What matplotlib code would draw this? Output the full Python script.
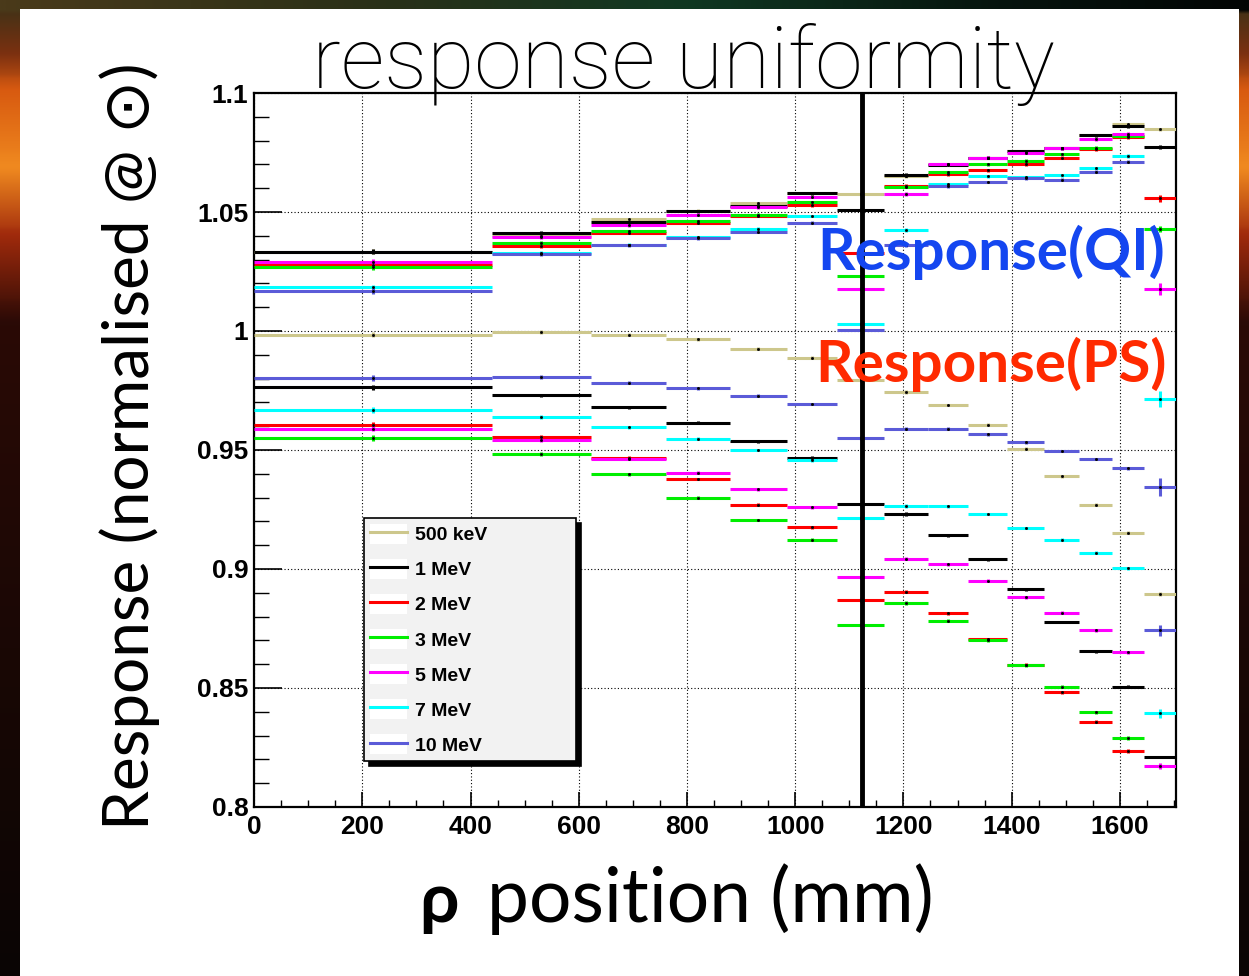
import numpy as np
import matplotlib
matplotlib.use('Agg')
import matplotlib.pyplot as plt
from matplotlib.lines import Line2D
from matplotlib.patches import Rectangle
from matplotlib.legend_handler import HandlerTuple
from matplotlib.colors import LinearSegmentedColormap
from matplotlib.ticker import MultipleLocator, FuncFormatter

plt.rcParams['font.family'] = ['Liberation Sans', 'DejaVu Sans']
plt.rcParams['font.weight'] = 'bold'

# ------------------------------------------------------------
# data: rho bins (mm) and response per energy, QI and PS
# ------------------------------------------------------------
nan = np.nan
bin_edges = [0, 440, 622, 762, 880, 984, 1078, 1164, 1245, 1320, 1392, 1460, 1525, 1586, 1645, 1704]

labels = ['500 keV', '1 MeV', '2 MeV', '3 MeV', '5 MeV', '7 MeV', '10 MeV']
colors = ['#cdc78c', '#000000', '#ff0000', '#00ee00', '#ff00ff', '#00ffff', '#5b5bd8']

resp_qi_500k = [1.0334, 1.0400, 1.0469, 1.0505, 1.0538, 1.0579, 1.0577, 1.0650, 1.0700, 1.0728, 1.0755, 1.0767, 1.0822, 1.0868, 1.0847]
resp_qi_1m = [1.0334, 1.0413, 1.0458, 1.0503, 1.0526, 1.0579, 1.0508, 1.0655, 1.0699, 1.0728, 1.0756, 1.0767, 1.0823, 1.0862, 1.0774]
resp_qi_2m = [1.0278, 1.0356, 1.0413, 1.0455, 1.0483, 1.0528, 1.0327, 1.0611, 1.0659, 1.0676, 1.0700, 1.0729, 1.0763, 1.0815, 1.0558]
resp_qi_3m = [1.0267, 1.0369, 1.0419, 1.0461, 1.0489, 1.0540, 1.0229, 1.0607, 1.0666, 1.0701, 1.0715, 1.0744, 1.0770, 1.0818, 1.0428]
resp_qi_5m = [1.0291, 1.0395, 1.0444, 1.0489, 1.0520, 1.0563, 1.0177, 1.0576, 1.0701, 1.0729, 1.0749, 1.0768, 1.0805, 1.0829, 1.0177]
resp_qi_7m = [1.0183, 1.0328, 1.0362, 1.0395, 1.0430, 1.0483, 1.0030, 1.0424, 1.0617, 1.0650, 1.0645, 1.0655, 1.0685, 1.0735, 0.9714]
resp_qi_10m = [1.0169, 1.0322, 1.0360, 1.0390, 1.0416, 1.0455, 1.0006, 1.0360, 1.0608, 1.0626, 1.0642, 1.0636, 1.0670, 1.0711, 0.9345]

resp_ps_500k = [0.9985, 0.9995, 0.9985, 0.9965, 0.9926, 0.9887, 0.9795, 0.9743, 0.9689, 0.9606, 0.9506, 0.9390, 0.9270, 0.9152, 0.8895]
resp_ps_1m = [0.9763, 0.9729, 0.9680, 0.9614, 0.9536, 0.9467, 0.9271, 0.9231, 0.9142, 0.9040, 0.8915, 0.8777, 0.8655, 0.8506, 0.8210]
resp_ps_2m = [0.9606, 0.9553, 0.9468, 0.9378, 0.9270, 0.9176, 0.8871, 0.8905, 0.8813, 0.8706, 0.8597, 0.8481, 0.8359, 0.8235, nan]
resp_ps_3m = [0.9551, 0.9482, 0.9398, 0.9300, 0.9206, 0.9123, 0.8763, 0.8857, 0.8783, 0.8700, 0.8595, 0.8506, 0.8398, 0.8290, nan]
resp_ps_5m = [0.9590, 0.9541, 0.9462, 0.9404, 0.9335, 0.9260, 0.8965, 0.9044, 0.9019, 0.8950, 0.8881, 0.8817, 0.8742, 0.8650, 0.8171]
resp_ps_7m = [0.9669, 0.9639, 0.9595, 0.9547, 0.9500, 0.9457, 0.9215, 0.9266, 0.9263, 0.9231, 0.9172, 0.9123, 0.9068, 0.9003, 0.8393]
resp_ps_10m = [0.9802, 0.9808, 0.9783, 0.9759, 0.9728, 0.9693, 0.9552, 0.9590, 0.9590, 0.9566, 0.9532, 0.9496, 0.9462, 0.9423, 0.8742]

# statistical errors: typical per bin, last bin per energy
err_bins = [0.0012, 0.0008, 0.0006, 0.0006, 0.0006, 0.0006, 0.0008, 0.0008, 0.0006, 0.0006, 0.0006, 0.0006, 0.0006, 0.0007]
err_last_qi = [0.0008, 0.0008, 0.0014, 0.0014, 0.0024, 0.0034, 0.0038]
err_last_ps = [0.0008, 0.0006, 0.0010, 0.0010, 0.0012, 0.0020, 0.0022]

pos_qi_line = 1124   # vertical marker (mm)

qi_sets = [resp_qi_500k, resp_qi_1m, resp_qi_2m, resp_qi_3m, resp_qi_5m, resp_qi_7m, resp_qi_10m]
ps_sets = [resp_ps_500k, resp_ps_1m, resp_ps_2m, resp_ps_3m, resp_ps_5m, resp_ps_7m, resp_ps_10m]

edges = np.array(bin_edges, dtype=float)
centers = 0.5 * (edges[1:] + edges[:-1])
half_w = 0.5 * (edges[1:] - edges[:-1])

# ------------------------------------------------------------
# figure + slide background
# ------------------------------------------------------------
fig = plt.figure(figsize=(12.49, 9.76), dpi=100)

bg = fig.add_axes([0, 0, 1, 1], zorder=-10)
bg.axis('off')
H, W = 244, 312
left_cmap = LinearSegmentedColormap.from_list('left', [
    (0.0, '#3a3218'), (0.05, '#7a3010'), (0.09, '#d85a10'), (0.17, '#f08a20'),
    (0.24, '#a02a0c'), (0.33, '#2a0a06'), (1.0, '#0a0504')])
top_cmap = LinearSegmentedColormap.from_list('top', [
    (0.0, '#4a3a1a'), (0.3, '#2a3018'), (0.55, '#103822'), (0.8, '#06140e'), (1.0, '#020504')])
img = np.repeat(left_cmap(np.linspace(0, 1, H))[:, None, :3], W, axis=1)
img[:3] = top_cmap(np.linspace(0, 1, W))[None, :, :3]
bg.imshow(img, aspect='auto', extent=(0, 1, 0, 1), interpolation='bilinear')
bg.set_xlim(0, 1)
bg.set_ylim(0, 1)
fig.patches.append(Rectangle((0.016, 0), 0.976, 0.9905, transform=fig.transFigure,
                             facecolor='white', edgecolor='none', zorder=-5))

ax = fig.add_axes([0.2034, 0.1732, 0.7383, 0.7315])

for i, c in enumerate(colors):
    for vals, last in ((qi_sets[i], err_last_qi[i]), (ps_sets[i], err_last_ps[i])):
        yerr = np.array(err_bins + [last])
        ax.errorbar(centers, vals, xerr=half_w, yerr=yerr, fmt='s', ms=1.0,
                    mfc='k', mec='k', ecolor=c, elinewidth=2.2, capsize=0, zorder=3)

ax.axvline(pos_qi_line, color='k', lw=3.5, zorder=6)

ax.set_xlim(0, 1704)
ax.set_ylim(0.8, 1.1)
ax.xaxis.set_major_locator(MultipleLocator(200))
ax.xaxis.set_minor_locator(MultipleLocator(50))
ax.yaxis.set_major_locator(MultipleLocator(0.05))
ax.yaxis.set_minor_locator(MultipleLocator(0.01))
ax.yaxis.set_major_formatter(FuncFormatter(lambda v, p: f'{v:g}'))
ax.grid(True, which='major', ls=(0, (1, 2)), color='k', lw=0.8)
ax.set_axisbelow(True)
ax.tick_params(axis='y', which='major', direction='in', length=20, width=1.2, labelsize=19, pad=4,
               right=False)
ax.tick_params(axis='y', which='minor', direction='in', length=11, width=1.0, right=False)
ax.tick_params(axis='x', which='major', direction='in', length=11, width=1.2, labelsize=19, pad=6,
               top=False)
ax.tick_params(axis='x', which='minor', direction='in', length=5, width=1.0, top=False)
for s in ax.spines.values():
    s.set_linewidth(1.6)

handles = [(Rectangle((0, 0), 1, 1, facecolor='white', edgecolor='none'),
            Line2D([], [], color=c, lw=2.2)) for c in colors]
leg = ax.legend(handles, labels, handler_map={tuple: HandlerTuple(ndivide=1)},
                loc='upper left', bbox_to_anchor=(0.119, 0.405, 0.23, 0), mode='expand',
                prop={'family': 'Liberation Sans', 'weight': 'bold', 'size': 14},
                frameon=True, fancybox=False, edgecolor='k', facecolor='#f2f2f2', framealpha=1,
                shadow={'ox': 4, 'oy': -4, 'color': 'k', 'alpha': 1},
                borderpad=0.3, labelspacing=0.75, handlelength=1.9, handleheight=1.2,
                handletextpad=0.45, borderaxespad=0)
leg.get_frame().set_linewidth(1.2)
leg.set_zorder(8)

# ------------------------------------------------------------
# slide texts
# ------------------------------------------------------------
gill = ['Lato', 'DejaVu Sans']
fig.text(0.547, 0.910, 'response uniformity', ha='center', va='baseline', fontsize=62,
         family=['Roboto', 'DejaVu Sans'], weight='light', zorder=10)
fig.text(0.104, 0.543, 'Response (normalised @ \u2299)', rotation=90, ha='center', va='center',
         fontsize=46, family=gill, weight='normal')
fig.text(0.336, 0.0553, '\u03c1', ha='left', va='baseline', fontsize=50, family=gill, weight='bold')
fig.text(0.390, 0.0553, 'position (mm)', ha='left', va='baseline', fontsize=54, family=gill,
         weight='normal')
fig.text(0.9327, 0.7234, 'Response(QI)', ha='right', va='baseline', color='#1446f0',
         fontsize=42, family=gill, weight='bold', zorder=10)
fig.text(0.9343, 0.6086, 'Response(PS)', ha='right', va='baseline', color='#ff2a00',
         fontsize=42, family=gill, weight='bold', zorder=10)

plt.savefig('out.png', dpi=100)
